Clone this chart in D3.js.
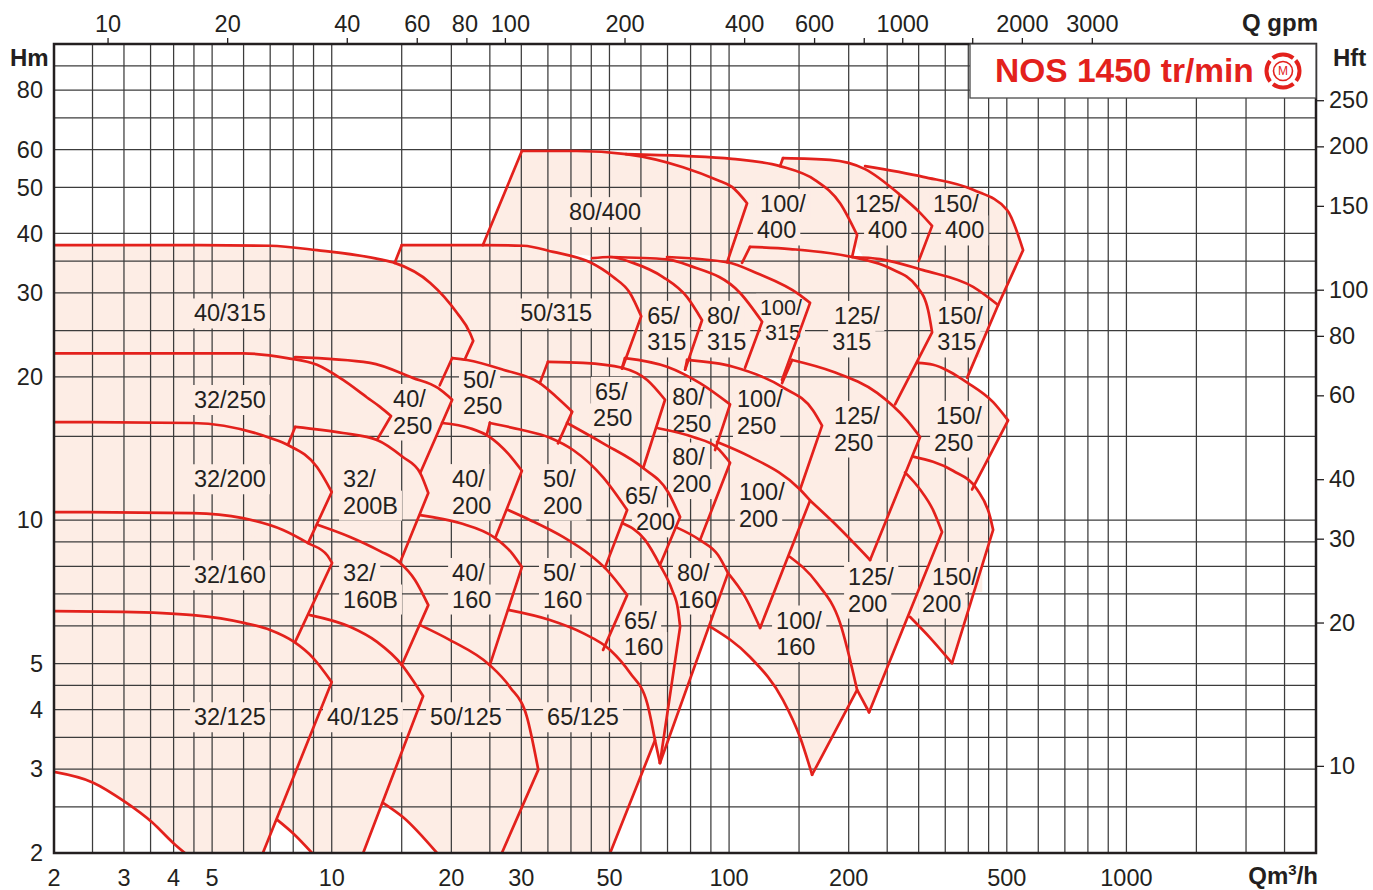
<!DOCTYPE html>
<html><head><meta charset="utf-8">
<script src="https://cdn.jsdelivr.net/npm/d3@7/dist/d3.min.js"></script>
<style>body{margin:0;background:#fff}svg{display:block}text{font-family:"Liberation Sans",Arial,Helvetica,sans-serif}</style>
</head><body><svg id="c" width="1373" height="890"></svg>
<script>
// ---------------- DATA (Q in m3/h, H in m) ----------------
const qTicks = [2,3,4,5,10,20,30,50,100,200,500,1000];
const hTicks = [2,3,4,5,10,20,30,40,50,60,80];
const gpmTicks = [10,20,40,60,80,100,200,400,600,800,1000,1500,2000,3000];
const gpmUnlabeled = [800,1500];
const hftTicks = [10,20,30,40,60,80,100,150,200,250];
const qGrid = [2,2.5,3,3.5,4,4.5,5,6,7,8,9,10,15,20,25,30,35,40,45,50,60,70,80,90,100,150,200,250,300,350,400,450,500,600,700,800,900,1000,1500,2000,2500];
const hGrid = [2.5,3,3.5,4,4.5,5,6,7,8,9,10,15,20,25,30,35,40,50,60,70,80,90];

const pumpNames = ["32/125","40/125","50/125","65/125","32/160","32/160B","40/160","50/160","65/160","80/160","100/160",
 "32/200","32/200B","40/200","50/200","65/200","80/200","100/200","125/200","150/200",
 "32/250","40/250","50/250","65/250","80/250","100/250","125/250","150/250",
 "40/315","50/315","65/315","80/315","100/315","125/315","150/315",
 "80/400","100/400","125/400","150/400"];

// max impeller curve of each pump (left corner -> right kink)
const maxCurves = [
 [[2,6.44],[2.98,6.42],[4.48,6.32],[6.05,6.08],[7.0,5.88],[8.04,5.55],[8.97,5.14],[10.0,4.57]],      // 32/125
 [[8.82,6.32],[11.12,5.97],[13.0,5.55],[15.03,4.96],[16.0,4.61],[16.98,4.27]],                     // 40/125
 [[16.7,6.02],[19.85,5.60],[25.0,4.96],[28.1,4.46],[31.0,3.86],[33.1,2.99]],                        // 50/125
 [[27.8,6.48],[35.4,6.17],[42.9,5.79],[50.2,5.34],[56.3,4.78],[62.2,4.13],[65.1,3.45]],             // 65/125
 [[2,10.4],[4.48,10.35],[5.98,10.1],[7.54,9.54],[8.72,8.95],[9.73,8.45],[10.02,8.13]],              // 32/160
 [[9.24,9.77],[11.12,9.22],[13.23,8.61],[14.77,8.17],[16.2,7.49],[17.5,6.63]],                      // 32/160B
 [[16.7,10.25],[21.0,9.86],[25.8,9.17],[28.4,8.53],[30.1,7.97]],                                    // 40/160
 [[27.8,10.5],[31.6,10.0],[38.2,9.22],[44.7,8.45],[48.7,7.94],[55.4,6.96]],                         // 50/160
 [[53.8,9.86],[61.5,9.08],[67.0,8.05],[71.9,7.13],[74.4,6.48],[75.3,5.97]],                         // 65/160
 [[73.5,9.67],[84.5,9.08],[93.8,8.45],[99.4,7.74]],                                                 // 80/160
 [[142.4,8.37],[166.5,7.38],[190.3,6.08],[210,4.40]],                                               // 100/160
 [[2,16.07],[4.48,16.0],[7.0,14.88],[7.76,14.38],[9.18,12.93],[10.0,11.46]],                        // 32/200
 [[8.09,15.7],[10.68,15.24],[13.0,14.74],[15.1,13.57],[16.7,12.56],[17.5,11.4]],                    // 32/200B
 [[18.95,16.0],[22.3,15.6],[25.0,14.95],[27.8,13.8],[30.1,12.7]],                                   // 40/200
 [[25.0,16.0],[29.8,15.5],[35.4,14.9],[40.5,14.04],[48.2,12.3],[55.4,10.5]],                        // 50/200
 [[39.1,16.0],[48.2,14.5],[60.8,12.87],[70.2,11.46],[75.3,10.15]],                                  // 65/200
 [[66.3,15.6],[81.2,14.95],[93.3,14.2],[100.6,13.2]],                                               // 80/200
 [[93.3,14.6],[112.9,13.6],[150.9,11.6],[159.9,11.0]],                                              // 100/200
 [[277.3,12.6],[302.5,11.6],[326.2,10.5],[343.6,9.44]],                                             // 125/200
 [[290.5,13.6],[366.2,12.7],[421,11.6],[454,10.15],[461.9,9.54]],                                   // 150/200
 [[2,22.4],[5.98,22.4],[7.72,21.9],[9.18,21.2],[10.68,19.7],[12.27,18.1],[13.23,17.3],[14.1,16.55]],// 32/250
 [[8.09,22.0],[12.49,21.4],[16.0,19.9],[18.5,18.95],[20.1,17.9]],                                   // 40/250
 [[20.1,21.9],[21.9,21.7],[27.0,20.7],[33.4,19.4],[36.9,18.1],[40.3,16.9]],                         // 50/250
 [[35.0,21.5],[42.9,21.4],[53.8,20.9],[62.2,19.7],[69.0,17.9]],                                     // 65/250
 [[54.7,21.9],[69.8,21.0],[84.5,19.4],[100.6,17.5]],                                                // 80/250
 [[78.4,21.7],[102.3,21.0],[136.7,19.0],[162.7,17.0],[171.4,15.8]],                                 // 100/250
 [[144.1,21.7],[182.7,20.5],[235.8,18.5],[280.5,16.2],[302.5,14.95]],                               // 125/250
 [[297.4,21.4],[326.2,21.2],[399.5,19.4],[461.9,17.7],[503.8,16.2]],                                // 150/250
 [[2,37.8],[4.66,37.8],[7.0,37.7],[9.18,36.9],[13.23,35.3],[14.4,34.7],[17.7,31.5],[20.7,27.2],[22.3,24.7],[22.7,23.8]], // 40/315
 [[15.0,37.8],[24.0,37.8],[30.3,37.7],[36.1,36.6],[44.7,34.8],[51.1,32.4],[56.3,30.0],[60.1,26.8]], // 50/315
 [[45.2,35.5],[50.2,35.7],[57.3,34.7],[68.2,32.4],[78.4,29.4],[85.5,26.3]],                         // 65/315
 [[50.2,35.7],[69.8,35.3],[79.8,34.2],[106.6,30.0],[121.1,26.1]],                                   // 80/315
 [[69.8,35.7],[98.9,34.8],[117.6,33.0],[150.9,29.7],[159.9,28.6]],                                  // 100/315
 [[112.9,37.5],[142.4,37.1],[204,35.7],[254.2,33.8],[297.4,30.9],[316.9,27.6],[324.3,24.8]],        // 125/315
 [[204,35.7],[239.9,35.35],[307.8,33.5],[411.3,30.9],[475.5,28.3]],                                 // 150/315
 [[30.1,59.6],[41.4,59.6],[55.0,58.7],[76.6,55.1],[93.3,51.8],[101.7,50.1],[111.0,46.3]],           // 80/400
 [[55.0,58.7],[76.6,58.2],[101.7,57.4],[134.4,55.4],[164.6,51.8],[190.3,46.3],[210,39.7]],          // 100/400
 [[136.7,57.6],[179.6,57.1],[219.9,54.6],[269.4,48.2],[302.5,44.2],[324.3,41.5]],                   // 125/400
 [[219.9,55.4],[307.8,52.6],[411.3,49.4],[501,44.8],[549.5,36.9]]                                   // 150/400
];

// lower end of the straight right-hand (max flow) line, starting at the kink
const rightEnds = [
 [6.71,2.0],[12.0,2.0],[26.8,2.0],[50.2,2.0],[8.09,5.55],[15.0,4.96],[25.0,4.96],[48.2,5.34],[67.0,3.09],[67.0,3.09],[161.8,2.92],
 [8.72,8.95],[14.9,8.2],[25.8,9.17],[48.7,7.94],[67.0,8.05],[84.5,9.08],[119.7,5.94],[225.1,3.95],[364,5.01],
 [13.0,14.74],[16.7,12.56],[37.1,14.5],[60.8,12.87],[92.2,14.04],[150.9,11.6],[226.4,8.25],[408.9,11.6],
 [21.7,21.9],[53.8,20.8],[77.5,20.7],[109.7,20.9],[135.9,19.7],[261.7,17.5],[397.2,19.9],
 [98.9,34.8],[204,35.7],[300,35.0],[475.5,28.3]
];

// lower end of a short left-hand line from the left corner (null = none drawn)
const leftEnds = [
 null,null,null,null,null,null,null,null,null,null,null,
 null,[7.76,14.4],null,[24.6,15.2],null,null,null,null,null,
 null,null,[18.7,19.2],[33.4,19.4],[53.8,20.9],[77.5,20.7],[135.9,19.4],null,
 null,[14.4,34.7],null,null,null,[107.8,34.7],null,
 [24.0,37.8],null,[134.4,55.4],null
];

// visible minimum impeller curves (null = hidden by other pumps)
const minCurves = [
 [[2,2.96],[2.51,2.81],[3.02,2.56],[3.53,2.32],[3.99,2.10],[4.27,2.0]],
 [[7.28,2.35],[7.99,2.20],[8.92,2.0]],
 [[13.46,2.55],[15.1,2.38],[18.4,2.0]],
 null,null,null,null,null,
 [[65.1,3.45],[67.0,3.09]],
 null,
 [[89.8,5.97],[112.9,5.16],[136.7,4.19],[150.9,3.50],[161.8,2.92]],
 null,null,null,null,null,null,
 [[99.4,7.74],[109.7,6.9],[119.7,5.94]],
 [[210,4.40],[225.1,3.95]],
 [[285.5,6.26],[320.6,5.66],[364,5.01]],
 null,null,null,null,null,null,
 [[159.9,11.0],[182.7,9.91],[226.4,8.25]],
 null,
 null,null,null,null,null,null,null,
 null,null,null,null
];

// points closing each pump's area along its neighbours (for the pink fill)
const fillReturn = [
 [],
 [[10.0,4.57],[8.09,5.55]],
 [[16.98,4.27],[15.0,4.96]],
 [[26.8,2.0],[33.1,2.99],[25.0,4.96]],
 [[2,6.44]],
 [[8.82,6.32],[10.02,8.13],[8.72,8.95]],
 [[16.7,6.02],[17.5,6.63],[14.77,8.17]],
 [[27.8,6.48],[30.1,7.97],[25.9,9.08]],
 [[62.2,4.13],[56.3,4.78],[50.2,5.34],[48.2,5.34],[55.4,6.96],[48.7,7.94]],
 [[75.3,5.97],[67.0,7.97]],
 [[99.4,7.74],[119.7,5.94]],
 [[2,10.4]],
 [[9.24,9.77],[10.0,11.46],[7.76,14.4]],
 [[16.7,10.25],[17.5,11.4],[16.7,12.56]],
 [[27.8,10.5],[30.1,12.7],[24.6,15.2]],
 [[53.8,9.86],[55.4,10.5],[37.1,14.5]],
 [[73.5,9.67],[75.3,10.15],[70.2,11.46],[60.8,12.87]],
 [[84.5,9.08],[100.6,13.2]],
 [[190.3,6.08],[142.4,8.37],[159.9,11.0],[226.4,8.25]],
 [[343.6,9.44],[302.5,11.6],[277.3,12.6]],
 [[8.09,15.7],[7.76,14.4],[2,16.07]],
 [[13.0,14.74],[14.1,16.55]],
 [[25.0,16.0],[24.6,15.2],[18.95,16.0],[20.1,17.9],[18.7,19.2]],
 [[39.1,16.0],[40.3,16.9],[36.9,18.1],[33.4,19.4]],
 [[66.3,15.6],[69.0,17.9],[62.2,19.7],[53.8,20.9]],
 [[93.3,14.2],[100.6,17.5],[84.5,19.4],[77.5,20.7]],
 [[150.9,11.6],[171.4,15.8],[135.9,19.4]],
 [[290.5,13.6],[302.5,14.95],[280.5,16.2],[261.7,17.5]],
 [[20.1,21.9],[18.7,19.2],[8.09,22.0],[2,22.4]],
 [[35.0,21.5],[33.4,19.4],[21.7,21.9],[22.7,23.8],[14.4,34.7]],
 [[62,20.5],[53.8,20.8],[60.1,26.8],[51.1,32.4]],
 [[77.5,20.7],[85.5,26.3],[68.2,32.4]],
 [[109.7,20.9],[121.1,26.1],[106.6,30.0]],
 [[144.1,21.7],[159.9,28.6],[107.8,34.7]],
 [[297.4,21.4],[324.3,24.8],[297.4,30.9]],
 [[69.8,35.7],[50.2,35.7],[36.1,36.6],[24.0,37.8]],
 [[150,30],[100,35]],
 [[250,30],[200,40],[134.4,55.4]],
 [[420,29.5],[270,33.5],[219.9,50]]
];

// pump labels: each label is a list of lines [text, left Q, centre H]
const pumpLabels = [
 [["80/400",39.57,44.4]], [["100/",119.7,45.9],["400",117.6,40.9]], [["125/",207.6,45.9],["400",223.8,40.9]], [["150/",326.2,45.9],["400",349.6,40.9]],
 [["40/315",4.50,27.2]], [["50/315",29.8,27.2]], [["65/",62.2,26.7],["315",62.2,23.8]], [["80/",88.0,26.7],["315",88.0,23.8]],
 [["100/",119.7,28.0],["315",123.2,24.8]], [["125/",183.8,26.7],["315",181.7,23.8]], [["150/",333.9,26.7],["315",333.9,23.8]],
 [["32/250",4.50,17.9]], [["40/",14.27,17.9],["250",14.27,15.9]], [["50/",21.4,19.6],["250",21.4,17.5]], [["65/",45.99,18.5],["250",45.48,16.47]],
 [["80/",71.9,18.05],["250",71.9,16.07]], [["100/",104.7,17.9],["250",104.7,15.9]], [["125/",183.8,16.47],["250",183.8,14.66]], [["150/",331.9,16.47],["250",328.1,14.66]],
 [["32/200",4.50,12.2]], [["32/",10.68,12.14],["200B",10.68,10.8]], [["40/",20.09,12.14],["200",20.09,10.8]], [["50/",34.02,12.14],["200",34.02,10.8]],
 [["65/",54.7,11.2],["200",58.3,9.96]], [["80/",71.9,13.5],["200",71.9,11.97]], [["100/",105.9,11.4],["200",105.9,10.15]],
 [["125/",199.3,7.56],["200",199.3,6.73]], [["150/",324.3,7.56],["200",306.0,6.73]],
 [["32/160",4.50,7.67]], [["32/",10.68,7.71],["160B",10.68,6.86]], [["40/",20.09,7.71],["160",20.09,6.86]], [["50/",34.02,7.71],["160",34.02,6.86]],
 [["65/",54.4,6.14],["160",54.4,5.44]], [["80/",73.95,7.71],["160",74.4,6.86]], [["100/",131.3,6.14],["160",131.3,5.44]],
 [["32/125",4.50,3.86]], [["40/125",9.73,3.86]], [["50/125",17.68,3.86]], [["65/125",34.83,3.86]]
];

// ---------------- DRAWING ----------------
const RED="#e3211c", PINK="#fdede5", INK="#231f20", GRID="#3c3c3c";
const M3H_PER_GPM = 0.27277, FT_PER_M = 3.28084;
const svg = d3.select("#c");
const L=54,R=1316,T=44,B=853;
const x = d3.scaleLog().domain([2,3000]).range([L,R]);
const y = d3.scaleLog().domain([2,100]).range([B,T]);
const xg = d3.scaleLog().domain([2/M3H_PER_GPM,3000/M3H_PER_GPM]).range([L,R]);
const yf = d3.scaleLog().domain([2*FT_PER_M,100*FT_PER_M]).range([B,T]);

svg.append("defs").append("clipPath").attr("id","clip").append("rect")
  .attr("x",L).attr("y",T).attr("width",R-L).attr("height",B-T);

const curve = d3.line().x(d=>x(d[0])).y(d=>y(d[1])).curve(d3.curveMonotoneX);
const straight = d3.line().x(d=>x(d[0])).y(d=>y(d[1]));
const P = d=>"L"+x(d[0])+","+y(d[1]);

// fills
const gFill = svg.append("g").attr("clip-path","url(#clip)");
pumpNames.forEach((n,i)=>{
  let p = curve(maxCurves[i]) + P(rightEnds[i]);
  if (minCurves[i]) p += curve(minCurves[i].slice().reverse()).replace(/^M/,"L");
  fillReturn[i].forEach(d=>{ p += P(d); });
  gFill.append("path").attr("d",p+"Z").attr("fill",PINK).attr("stroke",PINK).attr("stroke-width",1);
});

// grid
const gGrid = svg.append("g").attr("stroke",GRID).attr("stroke-width",1.25);
qGrid.forEach(q=>gGrid.append("line").attr("x1",x(q)).attr("x2",x(q)).attr("y1",T).attr("y2",B));
hGrid.forEach(h=>gGrid.append("line").attr("y1",y(h)).attr("y2",y(h)).attr("x1",L).attr("x2",R));

// labels with pink backgrounds
const gLb = svg.append("g"), gLt = svg.append("g");
pumpLabels.forEach(lines=>{
  const small = lines.length===2 && lines[0][0]==="100/" && lines[1][0]==="315";
  const size = small ? 21.5 : 23.5;
  const ys = lines.map(l=>y(l[2]));
  if (ys.length===2) {           // keep line boxes from touching
    const need = size*1.13 - (ys[1]-ys[0]);
    if (need>0) { ys[0]-=need/2; ys[1]+=need/2; }
  }
  lines.forEach(([t,q,h],k)=>{
    const el = gLt.append("text").attr("x",x(q)).attr("y",ys[k]).attr("dy","0.35em")
      .attr("font-size",size).attr("fill",INK).text(t);
    const b = el.node().getBBox();
    gLb.append("rect").attr("x",b.x-4).attr("y",b.y-2).attr("width",b.width+8).attr("height",b.height+4).attr("fill",PINK);
  });
});

// red curves
const gLine = svg.append("g").attr("clip-path","url(#clip)").attr("fill","none").attr("stroke",RED)
  .attr("stroke-width",2.7).attr("stroke-linejoin","round").attr("stroke-linecap","round");
pumpNames.forEach((n,i)=>{
  gLine.append("path").attr("d", curve(maxCurves[i]) + P(rightEnds[i]));
  if (leftEnds[i]) gLine.append("path").attr("d", straight([maxCurves[i][0], leftEnds[i]]));
  if (minCurves[i]) gLine.append("path").attr("d", curve(minCurves[i]));
});

// frame
svg.append("rect").attr("x",L).attr("y",T).attr("width",R-L).attr("height",B-T)
  .attr("fill","none").attr("stroke",INK).attr("stroke-width",2.5);

// title box
svg.append("rect").attr("x",970).attr("y",T).attr("width",R-970).attr("height",54)
  .attr("fill","#fff").attr("stroke","#4a4a4a").attr("stroke-width",1.3);
svg.append("text").attr("x",995).attr("y",82).attr("font-size",33.5).attr("font-weight","bold")
  .attr("fill",RED).text("NOS 1450 tr/min");
const logo = svg.append("g").attr("transform","translate(1283,71)");
logo.append("circle").attr("r",16.5).attr("fill","none").attr("stroke",RED).attr("stroke-width",4)
  .attr("stroke-dasharray","21.9 4").attr("transform","rotate(-40)");
logo.append("circle").attr("r",9.5).attr("fill","none").attr("stroke",RED).attr("stroke-width",1.6);
logo.append("text").attr("text-anchor","middle").attr("dy","0.36em").attr("font-size",12).attr("fill",RED).text("M");

// axes
const fs = 23.5;
svg.append("g").selectAll("text").data(qTicks).join("text")
  .attr("x",d=>x(d)).attr("y",886).attr("text-anchor","middle").attr("font-size",fs).attr("fill",INK).text(d=>d);
svg.append("g").selectAll("text").data(hTicks).join("text")
  .attr("x",43).attr("y",d=>y(d)).attr("dy","0.35em").attr("text-anchor","end").attr("font-size",fs).attr("fill",INK).text(d=>d);

const topAx = svg.append("g").attr("transform",`translate(0,${T})`)
  .call(d3.axisTop(xg).tickValues(gpmTicks).tickSize(6).tickPadding(6)
    .tickFormat(d=>gpmUnlabeled.includes(d)?"":String(d)));
topAx.select(".domain").remove();
topAx.selectAll("line").attr("stroke",INK).attr("stroke-width",1.3);
topAx.selectAll("text").attr("font-size",fs).attr("fill",INK).attr("font-family",null)
  .attr("dx",d=>d===100?5:(d===80?-2:0));

const rightAx = svg.append("g").attr("transform",`translate(${R},0)`)
  .call(d3.axisRight(yf).tickValues(hftTicks).tickSize(8).tickPadding(5).tickFormat(d=>String(d)));
rightAx.select(".domain").remove();
rightAx.selectAll("line").attr("stroke",INK).attr("stroke-width",1.3);
rightAx.selectAll("text").attr("font-size",fs).attr("fill",INK).attr("font-family",null);

const bold = (t,xx,yy,anchor)=>svg.append("text").attr("x",xx).attr("y",yy).attr("text-anchor",anchor)
  .attr("font-size",24).attr("font-weight","bold").attr("fill",INK).text(t);
bold("Hm",10,66,"start");
bold("Hft",1333,66,"start");
bold("Q gpm",1318,31,"end");
const qm = bold("Qm",1318,884,"end");
qm.append("tspan").attr("font-size",15).attr("dy",-9).text("3");
qm.append("tspan").attr("dy",9).text("/h");
</script></body></html>
